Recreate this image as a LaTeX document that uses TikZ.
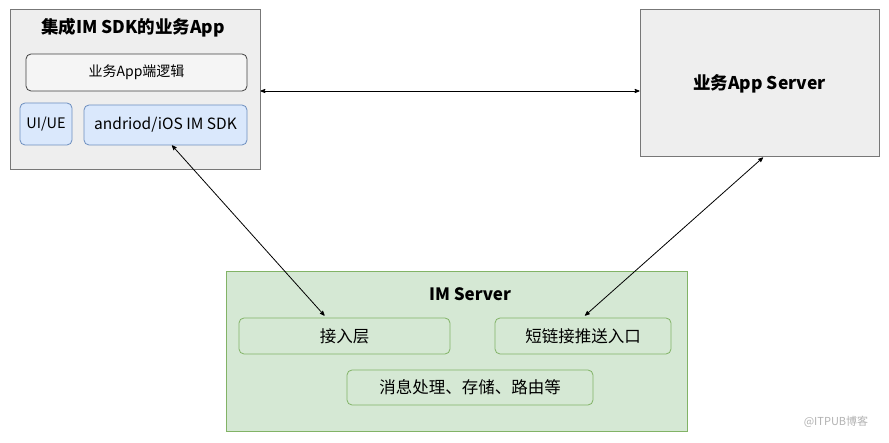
\documentclass[tikz,border=0pt]{standalone}
\usepackage{fontspec}
\setmainfont{Noto Sans CJK SC}
\usepackage{tikz}
\usepackage{xcolor}
\usetikzlibrary{arrows}
\definecolor{boxgray}{HTML}{EEEEEE}
\definecolor{linegray}{HTML}{777777}
\definecolor{sdkblue}{HTML}{DAE8FC}
\definecolor{sdkline}{HTML}{6C8EBF}
\definecolor{imgreen}{HTML}{D5E8D4}
\definecolor{imline}{HTML}{82B366}

\begin{document}
\begin{tikzpicture}[x=1pt,y=-1pt,<->,>=stealth',thick,
                    outer box/.style={rectangle,draw=linegray,fill=boxgray,line width=1pt},
                    inner box/.style={rectangle,rounded corners=5pt,draw=#1,line width=0.8pt,font=\fontsize{16.5}{18}\selectfont},
                    title/.style={font=\bfseries\fontsize{17.5}{20}\selectfont}]

  \useasboundingbox (0,0) rectangle (889,443);

  % app side
  \node[outer box,minimum width=250pt,minimum height=160pt] (app) at (135,90) {};
  \node[title] (apptitle) at (133,28) {集成IM SDK的业务App};
  \node[inner box=darkgray,fill=boxgray!60,minimum width=221pt,minimum height=37pt,font=\fontsize{14}{16}\selectfont] (logic) at (136.5,72.5) {业务App端逻辑};
  \node[inner box=sdkline,fill=sdkblue,minimum width=52pt,minimum height=42pt,font=\fontsize{14.5}{16}\selectfont] (uiue) at (46,124) {UI/UE};
  \node[inner box=sdkline,fill=sdkblue,minimum width=163pt,minimum height=40pt,font=\fontsize{15.5}{17}\selectfont] (sdk) at (165.5,125) {andriod/iOS IM SDK};

  % app server
  \node[outer box,minimum width=239pt,minimum height=147pt,title] (server) at (759.5,83.5) {业务App Server};

  % im server
  \node[rectangle,draw=imline,fill=imgreen,line width=1pt,minimum width=461pt,minimum height=160pt] (im) at (456.5,352) {};
  \node[title,font=\bfseries\fontsize{17}{19}\selectfont] (imtitle) at (470,294) {IM Server};
  \node[inner box=imline,minimum width=211pt,minimum height=36pt] (access) at (344.5,336) {接入层};
  \node[inner box=imline,minimum width=176pt,minimum height=36pt] (push) at (583,336) {短链接推送入口};
  \node[inner box=imline,minimum width=246pt,minimum height=35pt] (msg) at (470,387.5) {消息处理、存储、路由等};

  \node[text=gray!60,font=\fontsize{11}{13}\selectfont] (mark) at (836,422) {@ITPUB博客};

  \path[line width=0.8pt]
    (app.east |- 0,91) edge (server.west |- 0,91)
    ([xshift=6.5pt]sdk.south) edge ([xshift=-20pt,yshift=2pt]access.north)
    ([xshift=3.5pt]server.south) edge ([xshift=2pt,yshift=2pt]push.north)
    ;
\end{tikzpicture}
\end{document}
